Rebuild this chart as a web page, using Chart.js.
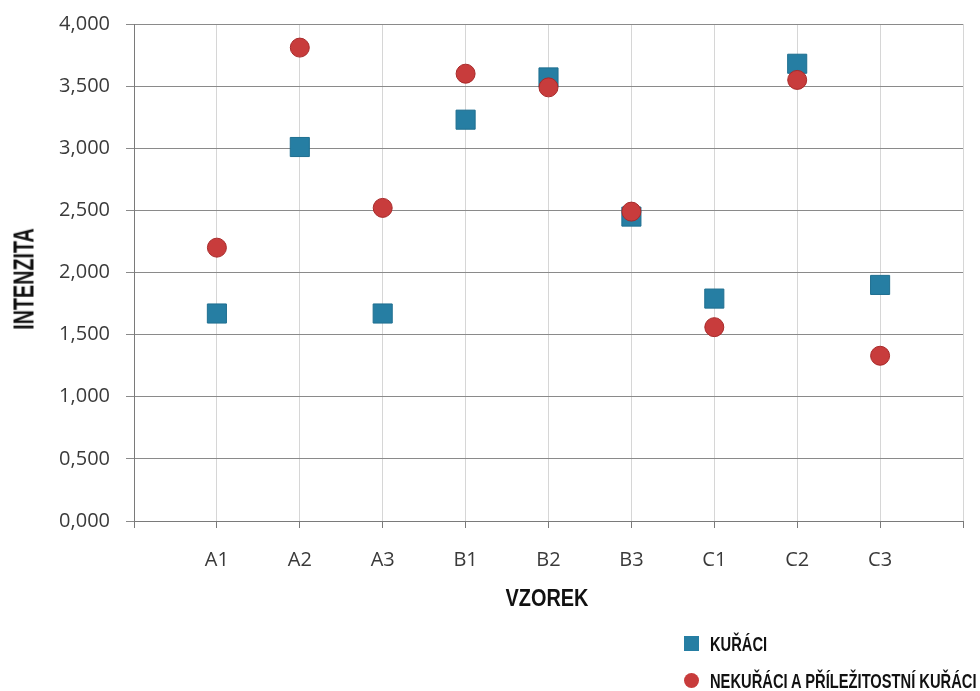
<!DOCTYPE html>
<html lang="cs">
<head>
	<meta charset="utf-8">
	<title>Intenzita podle vzorku</title>
	<script src="https://cdn.jsdelivr.net/npm/chart.js@4.4.1/dist/chart.umd.min.js"></script>
	<style>
		html, body { margin: 0; padding: 0; background: #fff; overflow: hidden; }
		#wrap { position: relative; width: 980px; height: 691px; overflow: hidden; }
		#box { position: absolute; left: 0; top: -4px; width: 983px; height: 695px; }
		.t { position: absolute; font-family: 'Liberation Sans', Arial, sans-serif; font-weight: bold; color: #111; white-space: nowrap; line-height: 1; }
		#xt { left: 547px; top: 598px; font-size: 24px; transform: translate(-50%, -50%) scaleX(0.83); }
		#yt { left: 24px; top: 279px; font-size: 29px; transform: translate(-50%, -50%) rotate(-90deg) scaleX(0.68); }
		.lg { left: 684px; font-size: 21px; display: flex; align-items: center; height: 22px; }
		.lg i { display: inline-block; width: 15px; height: 15px; margin-right: 11px; }
		.lg span { display: inline-block; transform: scaleX(0.7); transform-origin: left center; }
		.sq { background: #267ea3; }
		.ci { background: #c83c3c; border-radius: 50%; }
	</style>
</head>
<body>
	<div id="wrap">
		<div id="box"><canvas id="chart"></canvas></div>
		<div class="t" id="xt">VZOREK</div>
		<div class="t" id="yt">INTENZITA</div>
		<div class="t lg" style="top: 632px"><i class="sq"></i><span>KUŘÁCI</span></div>
		<div class="t lg" style="top: 669px"><i class="ci"></i><span>NEKUŘÁCI A PŘÍLEŽITOSTNÍ KUŘÁCI</span></div>
	</div>
	<script>
		const samples = ['A1', 'A2', 'A3', 'B1', 'B2', 'B3', 'C1', 'C2', 'C3'];
		const kuraci = [1.67, 3.01, 1.67, 3.23, 3.57, 2.45, 1.79, 3.68, 1.90];
		const nekuraci = [2.20, 3.81, 2.52, 3.60, 3.49, 2.49, 1.56, 3.55, 1.33];

		const tickFont = "'Open Sans', 'DejaVu Sans', sans-serif";

		const toPoints = vals => vals.map((v, i) => ({ x: i + 1, y: v }));

		new Chart(document.getElementById('chart'), {
			type: 'scatter',
			data: {
				datasets: [
					{
						label: 'KUŘÁCI',
						data: toPoints(kuraci),
						pointStyle: 'rect',
						pointRadius: 13.5,
						pointHoverRadius: 13.5,
						backgroundColor: '#267ea3',
						borderColor: '#1f6f90',
						borderWidth: 1,
						order: 1
					},
					{
						label: 'NEKUŘÁCI A PŘÍLEŽITOSTNÍ KUŘÁCI',
						data: toPoints(nekuraci),
						pointStyle: 'circle',
						pointRadius: 9.5,
						pointHoverRadius: 9.5,
						backgroundColor: '#c83c3c',
						borderColor: '#a82a2a',
						borderWidth: 1,
						order: 0
					}
				]
			},
			options: {
				responsive: true,
				maintainAspectRatio: false,
				animation: false,
				layout: { padding: { top: 17, right: 8, left: 0, bottom: 0 } },
				plugins: { legend: { display: false }, tooltip: { enabled: false } },
				scales: {
					x: {
						type: 'linear',
						min: 0,
						max: 10,
						afterFit: s => { s.height = 170; },
						ticks: {
							stepSize: 1,
							padding: 20,
							color: '#3a3a3a',
							font: { family: tickFont, size: 20 },
							maxRotation: 0,
							callback: v => samples[v - 1] || ''
						},
						grid: {
							color: ctx => ctx.tick && ctx.tick.value === 0 ? 'rgba(0,0,0,0)' : '#d6d6d6',
							tickColor: '#7a7a7a',
							tickLength: 7
						},
						border: { color: '#7a7a7a' }
					},
					y: {
						min: 0,
						max: 4,
						afterFit: s => { s.width = 134; },
						ticks: {
							stepSize: 0.5,
							padding: 16,
							color: '#3a3a3a',
							font: { family: tickFont, size: 20 },
							callback: v => v.toFixed(3).replace('.', ',')
						},
						grid: { color: '#8a8a8a', tickColor: '#8a8a8a', tickLength: 8 },
						border: { color: '#7a7a7a' }
					}
				}
			}
		});
	</script>
</body>
</html>
